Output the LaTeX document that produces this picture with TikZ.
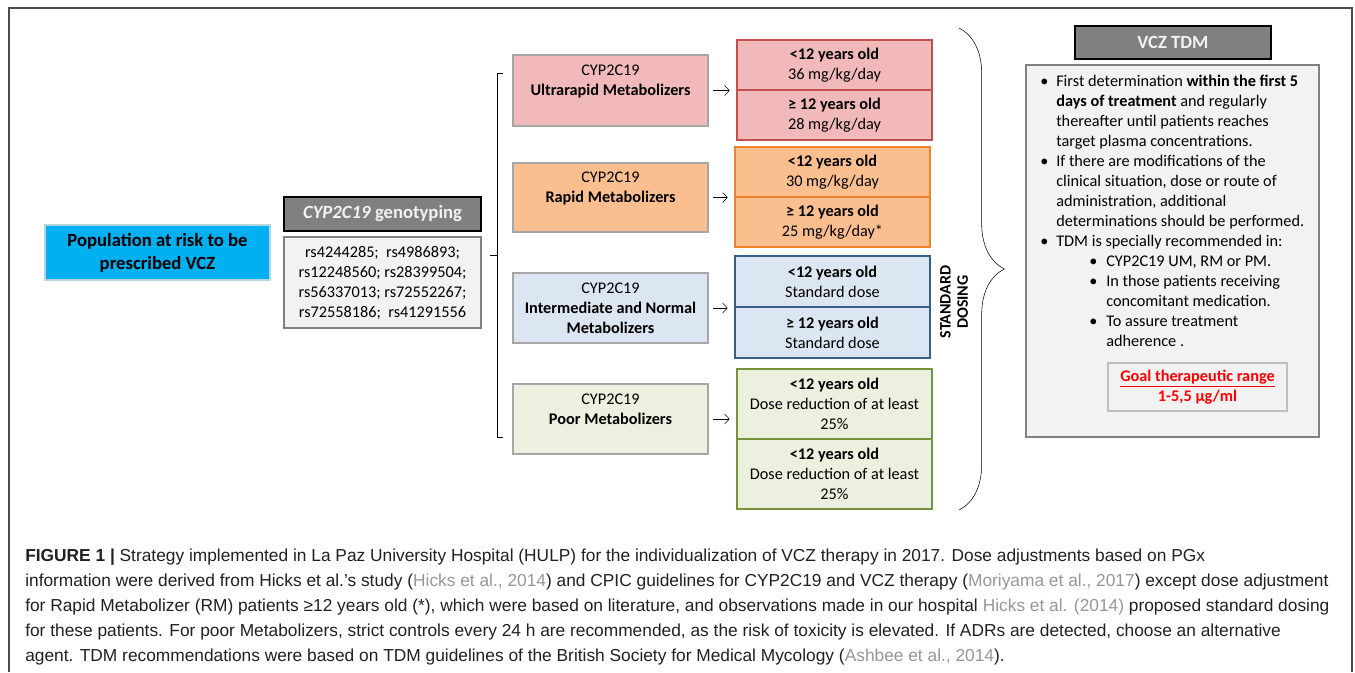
\documentclass[tikz,border=0pt]{standalone}
\usepackage{fontspec}
\setmainfont{Carlito}
\newfontfamily\capfont{Liberation Sans}
\usetikzlibrary{arrows.meta, fit, decorations.pathreplacing}

\definecolor{popblue}{RGB}{0,176,240}
\definecolor{headgray}{RGB}{128,128,128}
\definecolor{boxgray}{RGB}{242,242,242}
\definecolor{umfill}{RGB}{242,185,186}
\definecolor{umline}{RGB}{192,80,77}
\definecolor{rmfill}{RGB}{251,191,143}
\definecolor{rmline}{RGB}{240,130,40}
\definecolor{imfill}{RGB}{220,230,242}
\definecolor{imline}{RGB}{56,93,138}
\definecolor{pmfill}{RGB}{235,241,222}
\definecolor{pmline}{RGB}{118,146,60}
\definecolor{captext}{RGB}{35,31,32}
\definecolor{citegray}{RGB}{150,150,150}
\definecolor{goalred}{RGB}{255,0,0}

\newcommand{\tdmbul}{\makebox[12pt][l]{\textbullet}}
\newcommand{\tdmind}{\hspace*{12pt}}
\newcommand{\tdmsubbul}{\hspace*{36.75pt}\makebox[12.75pt][l]{\textbullet}}
\newcommand{\tdmsubind}{\hspace*{49.5pt}}
\newcommand{\citegr}[1]{\textcolor{citegray}{#1}}

\begin{document}
\begin{tikzpicture}[> = {Straight Barb[length=3.5pt, width=7.5pt]}, x = 0.75pt, y = -0.75pt,
	every node/.style = {font = \fontsize{12.2}{15}\selectfont},
	metbox/.style = {draw = gray!70, line width = 1.5pt, inner sep = 0pt},
	dosebox/.style = {line width = 1pt, inner sep = 0pt},
	boxtext/.style = {inner sep = 0pt, align = center},
	headbox/.style = {fill = headgray, draw = black, line width = 1.5pt, inner sep = 0pt},
	headtext/.style = {inner sep = 0pt, text = boxgray, font = \bfseries\fontsize{14}{17}\selectfont},
	greybox/.style = {fill = boxgray, draw = gray, line width = 1.5pt, inner sep = 0pt},
	captxt/.style = {inner sep = 0pt, text = captext, font = \capfont\fontsize{13}{18}\selectfont}
]
\useasboundingbox (0, 0) rectangle (1355, 672);

% Outer frame

\draw [gray!60!black, line width = 0.8pt] (9, 672) -- (9, 8) -- (1352, 8) -- (1352, 672);

% Population and genotyping

\node [fit = {(45, 225) (270, 280)}, fill = popblue, draw = popblue!40!gray!40, line width = 1pt,
	inner sep = 0pt] (pop) {};
\node [boxtext, font = \bfseries\fontsize{14}{17.25}\selectfont] (poptext) at (pop)
	{Population at risk to be\\prescribed VCZ};

\node [headbox, fit = {(284, 197) (481, 231)}] (genohead) {};
\node [headtext] (genoheadtext) at (genohead) {\textit{CYP2C19} genotyping};
\node [greybox, fit = {(284, 237) (481, 328)}] (genolist) {};
\node [boxtext] (genolisttext) at (genolist)
	{rs4244285;~ rs4986893;\\rs12248560; rs28399504;\\rs56337013; rs72552267;\\rs72558186;~ rs41291556};

% Bracket towards the phenotypes

\coordinate (brtop) at (503, 73);
\coordinate (brbot) at (503, 437);
\coordinate (brmid) at (497, 255);
\draw [thin] (brtop) -- ++(-6, 0) |- (brbot);
\draw [thin] (brmid) -- ++(-7, 0);

% Phenotype boxes

\node [metbox, fill = umfill, fit = {(513, 55) (708, 126)}] (um) {};
\node [boxtext] (umtext) at (um) {CYP2C19\\\textbf{Ultrarapid Metabolizers}\\\mbox{}};
\node [metbox, fill = rmfill, fit = {(513, 163) (708, 232)}] (rm) {};
\node [boxtext] (rmtext) at (rm) {CYP2C19\\\textbf{Rapid Metabolizers}\\\mbox{}};
\node [metbox, fill = imfill, fit = {(513, 273) (708, 343)}] (im) {};
\node [boxtext] (imtext) at (im) {CYP2C19\\\textbf{Intermediate and Normal}\\\textbf{Metabolizers}};
\node [metbox, fill = pmfill, fit = {(513, 384) (708, 454)}] (pm) {};
\node [boxtext] (pmtext) at (pm) {CYP2C19\\\textbf{Poor Metabolizers}\\\mbox{}};

% Dose boxes

\node [dosebox, fill = umfill, draw = umline, fit = {(737, 40) (932, 90)}] (umlow) {};
\node [boxtext] at (umlow) {\textbf{<12 years old}\\36 mg/kg/day};
\node [dosebox, fill = umfill, draw = umline, fit = {(737, 90) (932, 140)}] (umhigh) {};
\node [boxtext] at (umhigh) {\textbf{≥ 12 years old}\\28 mg/kg/day};

\node [dosebox, fill = rmfill, draw = rmline, fit = {(735, 147) (930, 197)}] (rmlow) {};
\node [boxtext] at (rmlow) {\textbf{<12 years old}\\30 mg/kg/day};
\node [dosebox, fill = rmfill, draw = rmline, fit = {(735, 197) (930, 247)}] (rmhigh) {};
\node [boxtext] at (rmhigh) {\textbf{≥ 12 years old}\\25 mg/kg/day*};

\node [dosebox, fill = imfill, draw = imline, fit = {(735, 256) (930, 307)}] (imlow) {};
\node [boxtext] at (imlow) {\textbf{<12 years old}\\Standard dose};
\node [dosebox, fill = imfill, draw = imline, fit = {(735, 307) (930, 358)}] (imhigh) {};
\node [boxtext] at (imhigh) {\textbf{≥ 12 years old}\\Standard dose};

\node [dosebox, fill = pmfill, draw = pmline, fit = {(737, 369) (932, 439)}] (pmlow) {};
\node [boxtext] at (pmlow) {\textbf{<12 years old}\\Dose reduction of at least\\25\%};
\node [dosebox, fill = pmfill, draw = pmline, fit = {(737, 439) (932, 509)}] (pmhigh) {};
\node [boxtext] at (pmhigh) {\textbf{<12 years old}\\Dose reduction of at least\\25\%};

% Arrows

\draw [->, shorten <= 3pt, shorten >= 5pt] (um.east) -- (um.east -| umlow.west);
\draw [->, shorten <= 3pt, shorten >= 5pt] (rm.east) -- (rm.east -| rmlow.west);
\draw [->, shorten <= 3pt, shorten >= 5pt] (im.east) -- (im.east -| imlow.west);
\draw [->, shorten <= 3pt, shorten >= 5pt] (pm.east) -- (pm.east -| pmhigh.west);

% Standard dosing and brace

\node [rotate = 90, inner sep = 0pt, align = center, font = \bfseries\fontsize{12}{13}\selectfont]
	(stdose) at (954, 302) {STANDARD\\DOSING};

\coordinate (bracetop) at (959, 28);
\coordinate (bracebot) at (959, 510);
\draw [decorate, decoration = {brace, amplitude = 34pt}, thin] (bracetop) -- (bracebot);

% TDM panel

\node [headbox, fit = {(1075, 26) (1271, 59)}] (tdmhead) {};
\node [headtext] (tdmheadtext) at (tdmhead) {VCZ TDM};
\node [greybox, fit = {(1026, 65) (1319, 437)}] (tdmbox) {};

\node [anchor = north west, inner sep = 0pt, align = left] (tdmtext) at (1040, 75) {%
	\tdmbul First determination \textbf{within the first 5}\\
	\tdmind\textbf{days of treatment} and regularly\\
	\tdmind thereafter until patients reaches\\
	\tdmind target plasma concentrations.\\
	\tdmbul If there are modifications of the\\
	\tdmind clinical situation, dose or route of\\
	\tdmind administration, additional\\
	\tdmind determinations should be performed.\\
	\tdmbul TDM is specially recommended in:\\
	\tdmsubbul CYP2C19 UM, RM or PM.\\
	\tdmsubbul In those patients receiving\\
	\tdmsubind concomitant medication.\\
	\tdmsubbul To assure treatment\\
	\tdmsubind adherence .};

\node [fit = {(1108, 363) (1287, 411)}, fill = boxgray, draw = gray!50, line width = 1.5pt,
	inner sep = 0pt] (goal) {};
\node [boxtext, text = goalred, font = \bfseries\fontsize{12.2}{14.5}\selectfont] (goaltext) at (goal)
	{\underline{Goal therapeutic range}\\1-5,5 µg/ml};

% Caption

\node [captxt, anchor = base west] (cap1) at (25, 561)
	{\textbf{FIGURE 1 |} Strategy implemented in La Paz University Hospital (HULP) for the individualization of VCZ therapy in 2017. Dose adjustments based on PGx};
\node [captxt, anchor = base west] (cap2) at (25, 586)
	{information were derived from Hicks et al.’s study (\citegr{Hicks et al., 2014}) and CPIC guidelines for CYP2C19 and VCZ therapy (\citegr{Moriyama et al., 2017}) except dose adjustment};
\node [captxt, anchor = base west] (cap3) at (25, 611)
	{for Rapid Metabolizer (RM) patients ≥12 years old (*), which were based on literature, and observations made in our hospital \citegr{Hicks et al. (2014)} proposed standard dosing};
\node [captxt, anchor = base west] (cap4) at (25, 636)
	{for these patients. For poor Metabolizers, strict controls every 24 h are recommended, as the risk of toxicity is elevated. If ADRs are detected, choose an alternative};
\node [captxt, anchor = base west] (cap5) at (25, 661)
	{agent. TDM recommendations were based on TDM guidelines of the British Society for Medical Mycology (\citegr{Ashbee et al., 2014}).};

\end{tikzpicture}
\end{document}
